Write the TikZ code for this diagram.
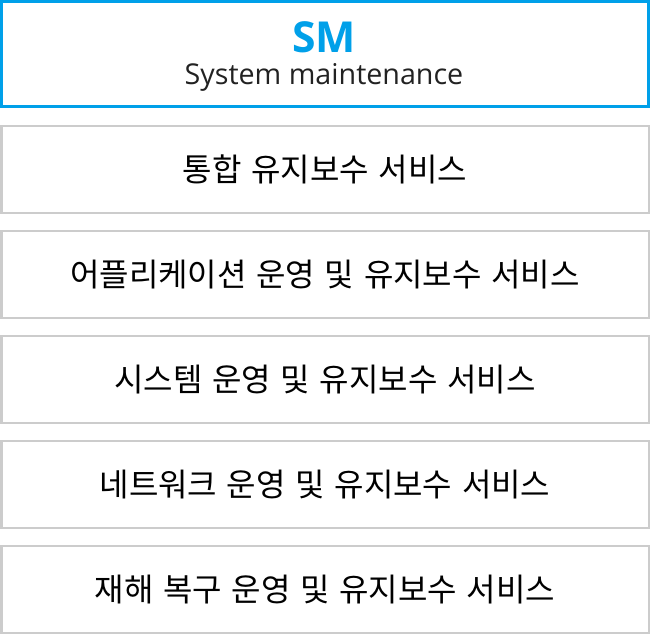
\documentclass[tikz,border=0pt]{standalone}
\usepackage{fontspec}
\setmainfont{Open Sans}
\newfontfamily\krfont[WordSpace=1.35]{Noto Sans CJK KR}
\definecolor{smblue}{RGB}{0,160,233}
\definecolor{boxgray}{RGB}{204,204,204}
\definecolor{subgray}{RGB}{34,34,34}
\tikzset{
  headbox/.style={draw=smblue, line width=2.25pt, minimum width=485.25pt, minimum height=78.75pt, inner sep=0pt},
  svcbox/.style={draw=boxgray, line width=1.5pt, minimum width=485.25pt, minimum height=65.25pt, inner sep=0pt, font=\krfont\fontsize{24}{28}\selectfont}
}

\begin{document}
\begin{tikzpicture}[x=0.75pt, y=-0.75pt]
\useasboundingbox (0,0) rectangle (650,635);

% header
\node[headbox] (sm) at (325,54) {};
\node[text=smblue, font=\fontsize{32}{36}\selectfont\bfseries] (smtitle) at (324,37) {SM};
\node[text=subgray, font=\fontsize{21.5}{25}\selectfont] (smsub) at (324,77) {System maintenance};

% services
\node[svcbox] (svc1) at (325,169.5) {통합 유지보수 서비스};
\node[svcbox] (svc2) at (325,274.5) {어플리케이션 운영 및 유지보수 서비스};
\node[svcbox] (svc3) at (325,379.5) {시스템 운영 및 유지보수 서비스};
\node[svcbox] (svc4) at (325,484.5) {네트워크 운영 및 유지보수 서비스};
\node[svcbox] (svc5) at (325,589.5) {재해 복구 운영 및 유지보수 서비스};

\end{tikzpicture}
\end{document}
